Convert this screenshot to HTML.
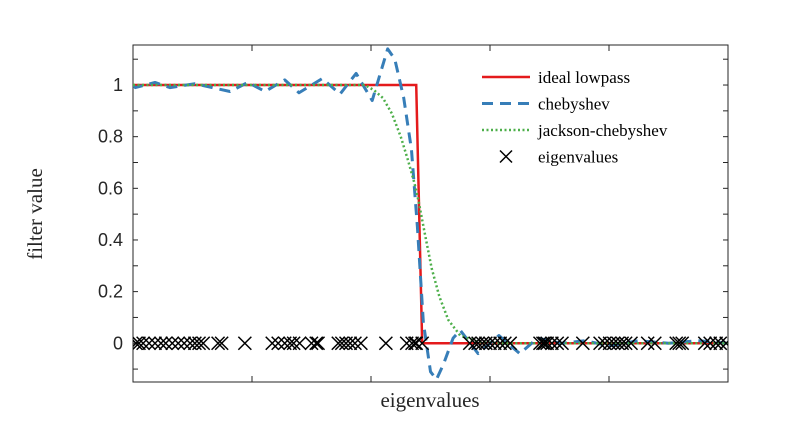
<!DOCTYPE html>
<html><head><meta charset="utf-8"><style>
body{margin:0;background:#fff;}
svg text{font-family:"Liberation Serif",serif;}
</style></head><body>
<svg id="chart" width="811" height="423" viewBox="0 0 811 423"></svg>
<script>
const eigenvalues=[0.005,0.01,0.017,0.027,0.037,0.047,0.055,0.066,0.076,0.086,0.096,0.104,0.111,0.118,0.143,0.149,0.188,0.234,0.244,0.255,0.264,0.27,0.28,0.3,0.308,0.311,0.345,0.351,0.358,0.365,0.373,0.383,0.425,0.46,0.469,0.474,0.476,0.486,0.566,0.575,0.58,0.587,0.593,0.6,0.608,0.617,0.625,0.634,0.684,0.689,0.692,0.696,0.704,0.713,0.721,0.756,0.785,0.793,0.801,0.808,0.815,0.822,0.828,0.837,0.865,0.877,0.913,0.918,0.923,0.961,0.97,0.98,0.987,0.997];
const cutoff=0.481;
const chebX=[0,0.004,0.037,0.062,0.104,0.163,0.193,0.222,0.255,0.279,0.318,0.348,0.375,0.402,0.428,0.44,0.455,0.468,0.478,0.488,0.5,0.51,0.522,0.538,0.55,0.58,0.615,0.65,0.68,0.72,0.76,0.8,0.85,0.9,0.95,1];
const chebY=[1.0,0.99,1.01,0.99,1.005,0.975,1.01,0.975,1.02,0.97,1.025,0.965,1.045,0.94,1.14,1.1,0.95,0.75,0.45,0.08,-0.11,-0.14,-0.08,0.02,0.05,-0.04,0.03,-0.04,0.02,0.0,0.01,-0.01,0.01,0.0,0.01,0.0];
const jackX=[0,0.39,0.405,0.42,0.435,0.45,0.462,0.473,0.48,0.49,0.502,0.515,0.53,0.55,0.58,0.62,1];
const jackY=[1,1,0.98,0.95,0.89,0.8,0.71,0.62,0.55,0.43,0.29,0.18,0.09,0.03,0.005,0,0];
const yTicks=[0,0.2,0.4,0.6,0.8,1];
const yTickLabels=["0","0.2","0.4","0.6","0.8","1"];
const xTicks=[0,0.2,0.4,0.6,0.8,1];

const svg=document.getElementById('chart');
const NS='http://www.w3.org/2000/svg';
const L=133,R=728,T=45,B=382,ymin=-0.15,ymax=1.155;
const sx=v=>L+(R-L)*v;
const sy=v=>B-(B-T)*(v-ymin)/(ymax-ymin);
function el(tag,attrs,parent){const e=document.createElementNS(NS,tag);for(const k in attrs)e.setAttribute(k,attrs[k]);(parent||svg).appendChild(e);return e;}

const ax=el('g',{});


el('rect',{x:L,y:T,width:R-L,height:B-T,fill:'none',stroke:'#262626','stroke-width':1},ax);
for(let v=-0.1;v<=1.101;v+=0.1){const y=sy(v);
 el('line',{x1:L,x2:L+5,y1:y,y2:y,stroke:'#262626'},ax);el('line',{x1:R,x2:R-5,y1:y,y2:y,stroke:'#262626'},ax);}
xTicks.forEach(v=>{const x=sx(v);el('line',{x1:x,x2:x,y1:B,y2:B-6,stroke:'#262626'},ax);el('line',{x1:x,x2:x,y1:T,y2:T+6,stroke:'#262626'},ax);});
yTicks.forEach((v,i)=>{const t=el('text',{x:L-10,y:sy(v)+6,'text-anchor':'end','font-size':18,fill:'#262626',style:'font-family:"Liberation Sans",sans-serif'},ax);t.textContent=yTickLabels[i];
 
 });
const xl=el('text',{x:430,y:407,'text-anchor':'middle','font-size':21,fill:'#262626'});xl.textContent='eigenvalues';


const yl=el('text',{x:0,y:0,'text-anchor':'middle','font-size':21,fill:'#262626',transform:'translate(42,214) rotate(-90)'});yl.textContent='filter value';



const clip=el('clipPath',{id:'c'});el('rect',{x:L,y:T,width:R-L,height:B-T},clip);
const g=el('g',{'clip-path':'url(#c)'});
const lastIn=Math.max(...eigenvalues.filter(e=>e<=cutoff)),firstOut=Math.min(...eigenvalues.filter(e=>e>cutoff));
const ideal=el('polyline',{points:`${sx(0)},${sy(1)} ${sx(lastIn)},${sy(1)} ${sx(firstOut)},${sy(0)} ${sx(1)},${sy(0)}`,fill:'none',stroke:'#e41a1c','stroke-width':2.5},g);


const ch=el('polyline',{points:chebX.map((x,i)=>sx(x)+','+sy(chebY[i])).join(' '),fill:'none',stroke:'#377eb8','stroke-width':3,'stroke-dasharray':'11,7','stroke-linejoin':'round'},g);


const jk=el('polyline',{points:jackX.map((x,i)=>sx(x)+','+sy(jackY[i])).join(' '),fill:'none',stroke:'#4daf4a','stroke-width':2.5,'stroke-dasharray':'2,2.5'},g);


eigenvalues.forEach(e=>{const x=sx(e),y=sy(0),s=6.5;
 const p=el('path',{d:`M${x-s},${y-s}L${x+s},${y+s}M${x-s},${y+s}L${x+s},${y-s}`,stroke:'#000','stroke-width':1.5},g);
 
 });

const lg=el('g',{});


const items=[['ideal lowpass','#e41a1c','none',2.5],['chebyshev','#377eb8','11,7',3],['jackson-chebyshev','#4daf4a','2,2.5',2.5],['eigenvalues','x','',0]];
items.forEach((it,i)=>{const y=77+i*26.5;
 const en=el('g',{},lg);
 
 
 if(it[1]==='x'){el('path',{d:`M500,${y-6}L512,${y+6}M500,${y+6}L512,${y-6}`,stroke:'#000','stroke-width':1.5},en);}
 else el('line',{x1:482,x2:530,y1:y,y2:y,stroke:it[1],'stroke-width':it[3],'stroke-dasharray':it[2]},en);
 const t=el('text',{x:538,y:y+6,'font-size':17,fill:'#000'},en);t.textContent=it[0];});
</script>
</body></html>
